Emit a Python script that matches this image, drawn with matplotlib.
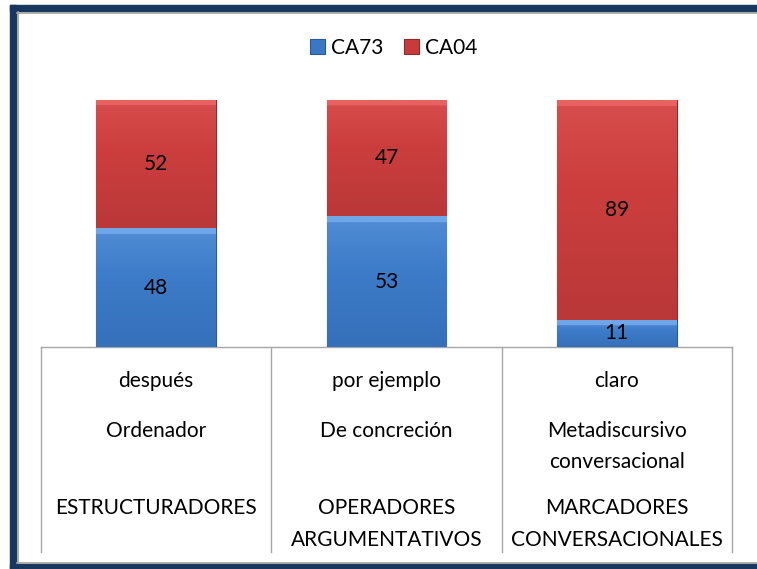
import numpy as np
import matplotlib.pyplot as plt
from matplotlib.patches import Rectangle
from matplotlib.colors import LinearSegmentedColormap

plt.rcParams['font.family'] = ['Lato', 'DejaVu Sans']

# data
markers = ['después', 'por ejemplo', 'claro']
subtypes = ['Ordenador', 'De concreción', 'Metadiscursivo\nconversacional']
families = ['ESTRUCTURADORES', 'OPERADORES\nARGUMENTATIVOS', 'MARCADORES\nCONVERSACIONALES']
ca73 = [48, 53, 11]
ca04 = [52, 47, 89]

blue = '#3B78C4'
red = '#C93B3B'
navy = '#17375E'

fig = plt.figure(figsize=(7.57, 5.69), dpi=100)
ax = fig.add_axes([41/757, 1-347/569, (732-41)/757, 247/569])

x = np.arange(len(markers))
w = 0.52
b1 = ax.bar(x, ca73, w, color=blue, edgecolor='#2A5A96', linewidth=0.8, label='CA73', zorder=3)
b2 = ax.bar(x, ca04, w, bottom=ca73, color=red, edgecolor='#8E2A2A', linewidth=0.8, label='CA04', zorder=3)

# fake bevel: vertical gradient clipped to each bar
cm_b = LinearSegmentedColormap.from_list('b', ['#3068B0', '#3D7CC9', '#6FA6E8'])
cm_r = LinearSegmentedColormap.from_list('r', ['#AE3434', '#CC3E3E', '#E86262'])
grad = np.linspace(0, 1, 256).reshape(-1, 1)
for bars, cm in ((b1, cm_b), (b2, cm_r)):
    for p in bars:
        x0, y0, ww, hh = p.get_x(), p.get_y(), p.get_width(), p.get_height()
        g = np.where(grad > 1 - 6 / (hh * 2.47), 1.0, 0.2 + grad * 0.5)
        im = ax.imshow(g, extent=[x0, x0 + ww, y0, y0 + hh], origin='lower',
                       cmap=cm, aspect='auto', zorder=3.5, vmin=0, vmax=1)
        im.set_clip_path(p)

for i in range(len(markers)):
    ax.text(x[i], ca73[i] / 2, str(ca73[i]), ha='center', va='center', fontsize=15, zorder=5)
    ax.text(x[i], ca73[i] + ca04[i] / 2, str(ca04[i]), ha='center', va='center', fontsize=15, zorder=5)

ax.set_xlim(-0.5, 2.5)
ax.set_ylim(0, 100)
ax.axis('off')

# category table below the bars
tr = ax.get_xaxis_transform()
ax.plot([-0.5, 2.5], [0, 0], color='#A6A6A6', lw=1, transform=tr, clip_on=False)
for xv in [-0.5, 0.5, 1.5, 2.5]:
    ax.plot([xv, xv], [0, -0.83], color='#A6A6A6', lw=1, transform=tr, clip_on=False)
for i in range(len(markers)):
    ax.text(x[i], -0.138, markers[i], ha='center', va='center', fontsize=15, transform=tr)
    ax.text(x[i], -0.298, subtypes[i], ha='center', va='top', fontsize=15,
            linespacing=1.74, transform=tr)
    ax.text(x[i], -0.613, families[i], ha='center', va='top', fontsize=15,
            linespacing=1.74, transform=tr)

fig.legend(handles=[b1, b2], loc='center', bbox_to_anchor=(0.52, 1 - 48/569), ncol=2,
           frameon=False, fontsize=15, handlelength=0.7, handleheight=0.7,
           handletextpad=0.3, columnspacing=1.0)

# chart frame
fig.patches.append(Rectangle((10/757, 1 - 11/569), 1, 6/569, transform=fig.transFigure,
                             color=navy, zorder=0))
fig.patches.append(Rectangle((10/757, 0), 6/757, 1 - 5/569, transform=fig.transFigure,
                             color=navy, zorder=0))
fig.patches.append(Rectangle((10/757, 0), 1, 5/569, transform=fig.transFigure,
                             color=navy, zorder=0))
fig.lines.append(plt.Line2D([17/757, 1], [1 - 12.5/569] * 2, transform=fig.transFigure,
                            color='#A0A0A0', lw=1.2))
fig.lines.append(plt.Line2D([17.5/757] * 2, [6/569, 1 - 12/569], transform=fig.transFigure,
                            color='#A0A0A0', lw=1.2))
fig.lines.append(plt.Line2D([17/757, 1], [6.5/569] * 2, transform=fig.transFigure,
                            color='#A0A0A0', lw=1.2))

fig.savefig('out.png', dpi=100)
